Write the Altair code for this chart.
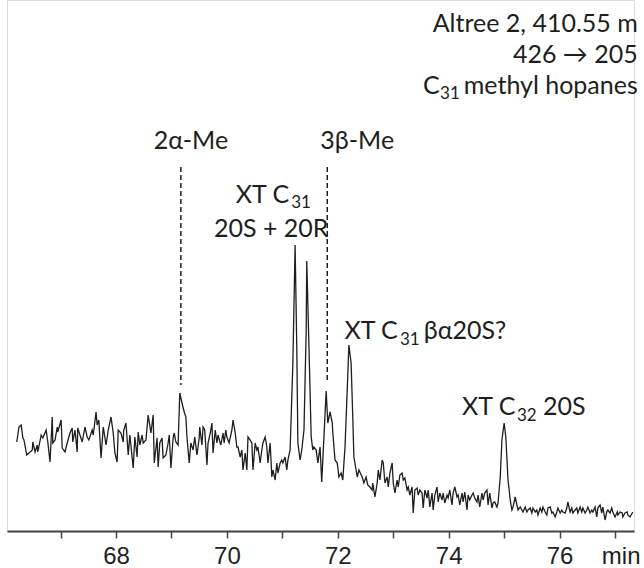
import altair as alt
import pandas as pd

# ---- trace: retention time (min) and relative intensity ----
times_a = [66.21, 66.25, 66.29, 66.32, 66.34, 66.39, 66.45, 66.49, 66.50, 66.54,
           66.58, 66.59, 66.65, 66.68, 66.74, 66.77, 66.81, 66.85, 66.86, 66.90,
           66.94, 66.95, 67.01, 67.03, 67.08, 67.12, 67.17, 67.21, 67.22, 67.26,
           67.30, 67.31, 67.35, 67.39, 67.44, 67.48, 67.51, 67.57, 67.59, 67.64,
           67.66, 67.69, 67.73, 67.77, 67.82, 67.86, 67.91, 67.95, 67.98, 68.02,
           68.04, 68.09, 68.13, 68.14, 68.18, 68.22, 68.25, 68.31, 68.34, 68.38,
           68.40, 68.43, 68.47, 68.49, 68.54, 68.58, 68.63, 68.67, 68.69, 68.74,
           68.76, 68.79, 68.83, 68.85, 68.90, 68.94, 68.96, 68.99, 69.03, 69.05,
           69.08, 69.12, 69.15, 69.19, 69.23, 69.26, 69.28, 69.32, 69.35, 69.39,
           69.42, 69.46, 69.50]
inten_a = [89, 104, 106, 93, 91, 76, 79, 81, 89, 79,
           86, 79, 96, 93, 101, 89, 69, 114, 88, 91,
           104, 99, 111, 83, 79, 88, 98, 103, 89, 101,
           79, 103, 96, 89, 104, 94, 91, 101, 96, 119,
           106, 111, 73, 104, 86, 101, 114, 98, 78, 69,
           101, 98, 89, 101, 108, 76, 96, 63, 94, 74,
           99, 86, 96, 88, 91, 116, 98, 116, 68, 93,
           64, 88, 93, 73, 76, 88, 96, 63, 93, 98,
           89, 86, 138, 128, 119, 114, 94, 68, 88, 81,
           94, 76, 93]

times_b = [69.51, 69.55, 69.57, 69.60, 69.64, 69.66, 69.70, 69.73, 69.75, 69.79,
           69.82, 69.84, 69.89, 69.93, 69.95, 69.98, 70.00, 70.04, 70.09, 70.11,
           70.15, 70.18, 70.20, 70.24, 70.27, 70.29, 70.33, 70.36, 70.38, 70.42,
           70.45, 70.47, 70.51, 70.54, 70.56, 70.60, 70.63, 70.65, 70.69, 70.72,
           70.74, 70.78, 70.81, 70.83, 70.87, 70.90, 70.92, 70.96, 70.99, 71.01,
           71.05, 71.08, 71.10, 71.14, 71.19, 71.23, 71.26, 71.28, 71.32, 71.35,
           71.39, 71.43, 71.44, 71.48, 71.52, 71.55, 71.57, 71.61, 71.64, 71.68,
           71.71, 71.75, 71.79, 71.82, 71.86, 71.90, 71.91, 71.95, 71.99, 72.02,
           72.06, 72.09, 72.13, 72.17, 72.20, 72.24, 72.27, 72.29, 72.33, 72.35,
           72.38, 72.44, 72.47, 72.51, 72.54, 72.58, 72.62, 72.63, 72.67, 72.71,
           72.73, 72.76, 72.80, 72.82, 72.85, 72.89, 72.91, 72.94, 72.98, 73.00,
           73.03, 73.07]
inten_b = [104, 86, 104, 101, 66, 88, 98, 108, 78, 101,
           88, 96, 86, 98, 88, 101, 94, 88, 101, 111,
           98, 84, 84, 74, 81, 61, 78, 61, 94, 91,
           88, 61, 88, 81, 84, 68, 81, 88, 94, 84,
           68, 88, 54, 61, 51, 68, 58, 68, 71, 68,
           74, 61, 71, 81, 168, 286, 184, 88, 71, 81,
           101, 201, 270, 184, 94, 81, 84, 81, 68, 84,
           49, 94, 140, 108, 119, 108, 98, 71, 68, 54,
           58, 51, 84, 141, 186, 168, 114, 74, 61, 54,
           61, 54, 48, 54, 46, 44, 41, 48, 34, 48,
           61, 51, 71, 68, 48, 54, 44, 58, 68, 48,
           38, 51]

times_c = [73.09, 73.12, 73.16, 73.18, 73.21, 73.25, 73.27, 73.30, 73.34, 73.36,
           73.39, 73.43, 73.45, 73.48, 73.52, 73.54, 73.57, 73.61, 73.63, 73.66,
           73.70, 73.72, 73.75, 73.79, 73.81, 73.84, 73.88, 73.90, 73.93, 73.97,
           73.99, 74.02, 74.06, 74.08, 74.11, 74.15, 74.17, 74.20, 74.24, 74.26,
           74.29, 74.33, 74.35, 74.38, 74.42, 74.44, 74.47, 74.51, 74.53, 74.56,
           74.60, 74.62, 74.65, 74.69, 74.71, 74.74, 74.78, 74.80, 74.83, 74.87,
           74.89, 74.93, 74.96, 75.00, 75.03, 75.07, 75.11, 75.14, 75.16, 75.20,
           75.23, 75.25, 75.29, 75.32, 75.34, 75.38, 75.41, 75.43, 75.47, 75.50,
           75.52, 75.56, 75.59, 75.61, 75.65, 75.68, 75.70, 75.74, 75.77, 75.79,
           75.83, 75.86, 75.88, 75.92, 75.95, 75.97, 76.01, 76.04, 76.06, 76.10,
           76.13, 76.15, 76.19, 76.22, 76.24, 76.28, 76.31, 76.33, 76.37, 76.40,
           76.42, 76.46, 76.49, 76.51, 76.55, 76.58, 76.60, 76.64, 76.67, 76.69,
           76.73, 76.76, 76.78, 76.82, 76.85, 76.87, 76.91, 76.94, 76.96, 77.00,
           77.04, 77.05, 77.09, 77.13, 77.14, 77.18, 77.22, 77.23, 77.27, 77.31,
           77.32]
inten_c = [44, 56, 58, 51, 53, 41, 44, 36, 44, 18,
           41, 43, 36, 41, 38, 23, 41, 33, 41, 24,
           38, 21, 36, 44, 29, 38, 31, 38, 28, 36,
           33, 41, 26, 38, 44, 34, 36, 26, 38, 29,
           39, 21, 36, 31, 36, 38, 33, 29, 36, 24,
           38, 31, 38, 41, 26, 38, 23, 28, 29, 24,
           28, 54, 91, 108, 94, 51, 31, 21, 24, 34,
           26, 21, 24, 21, 19, 24, 19, 21, 23, 18,
           23, 19, 21, 16, 23, 19, 24, 19, 16, 23,
           24, 18, 19, 14, 19, 23, 18, 21, 19, 18,
           23, 29, 19, 23, 18, 21, 23, 18, 24, 19,
           23, 18, 21, 24, 18, 21, 19, 24, 14, 23,
           26, 18, 24, 11, 19, 21, 18, 23, 19, 14,
           19, 16, 19, 18, 14, 18, 19, 16, 14, 18,
           19]

# ---- dashed marker lines (2α-Me, 3β-Me elution positions) ----
marker_times = [69.17, 71.81]
marker_top = [364, 364]
marker_bottom = [146, 151]

# ---- annotation texts (position in time / intensity units) ----
center_texts = ["2α-Me", "3β-Me", "20S + 20R"]
center_t = [69.35, 72.35, 70.80]
center_y = [382, 382, 294]
center_size = [25, 25, 25]

left_texts = ["XT C", "31", "XT C", "31", "βα20S?", "XT C", "32", "20S"]
left_t = [70.16, 71.16, 72.12, 73.12, 73.55, 74.24, 75.23, 75.70]
left_y = [328, 323, 192, 186, 192, 116, 110, 116]
left_size = [25, 17, 25, 17, 25, 25, 17, 25]

right_texts = ["Altree 2, 410.55 m", "426 → 205", "methyl hopanes", "31", "C"]
right_t = [77.41, 77.41, 77.41, 74.20, 73.84]
right_y = [499, 468, 437, 432, 437]
right_size = [25, 25, 25, 17, 25]

tick_values = [67, 68, 69, 70, 71, 72, 73, 74, 75, 76, 77]
unit_label = ["min"]
unit_t = [77.11]
unit_y = [-33]

X_DOMAIN = [66.034, 77.342]
Y_DOMAIN = [0, 531]
INK = "#1e1e1e"

trace = pd.DataFrame({"t": times_a + times_b + times_c,
                      "i": inten_a + inten_b + inten_c})

xs = alt.Scale(domain=X_DOMAIN, nice=False, zero=False)
ys = alt.Scale(domain=Y_DOMAIN, nice=False, zero=False)

line = alt.Chart(trace).mark_line(color=INK, strokeWidth=1.3, clip=False).encode(
    x=alt.X("t:Q", scale=xs, title=None,
            axis=alt.Axis(values=tick_values, grid=False, tickSize=7, tickWidth=1.5,
                          tickColor="#444", domainColor="#444", domainWidth=2,
                          format="d",
                          labelFont="Liberation Sans", labelFontSize=24,
                          labelColor="#222", labelPadding=6,
                          labelExpr="(datum.value % 2 == 0 && datum.value <= 76) ? datum.label : ''")),
    y=alt.Y("i:Q", scale=ys, axis=None),
)

markers = pd.DataFrame({"t": marker_times, "top": marker_top, "bot": marker_bottom})
rules = alt.Chart(markers).mark_rule(color=INK, strokeWidth=1.5, strokeDash=[5, 3]).encode(
    x=alt.X("t:Q", scale=xs), y=alt.Y("top:Q", scale=ys), y2="bot:Q")


def text_layer(texts, ts, yv, sizes, align, font="Lato"):
    df = pd.DataFrame({"txt": texts, "t": ts, "y": yv, "s": sizes})
    return alt.Chart(df).mark_text(align=align, baseline="alphabetic", font=font,
                                   color=INK, clip=False).encode(
        x=alt.X("t:Q", scale=xs), y=alt.Y("y:Q", scale=ys),
        text="txt:N", size=alt.Size("s:Q", scale=None, legend=None))


txt_c = text_layer(center_texts, center_t, center_y, center_size, "center")
txt_l = text_layer(left_texts, left_t, left_y, left_size, "left")
txt_r = text_layer(right_texts, right_t, right_y, right_size, "right")
txt_u = text_layer(unit_label, unit_t, unit_y, [24], "center", font="Liberation Sans")

chart = alt.layer(line, rules, txt_c, txt_l, txt_r, txt_u).properties(
    width=627, height=531,
    padding={"left": 7, "top": 0, "right": 10, "bottom": 37},
    autosize=alt.AutoSizeParams(type="none"),
).configure_view(stroke=None).configure(background="white")

chart.save("out.html", embed_options={"renderer": "svg", "actions": False})
